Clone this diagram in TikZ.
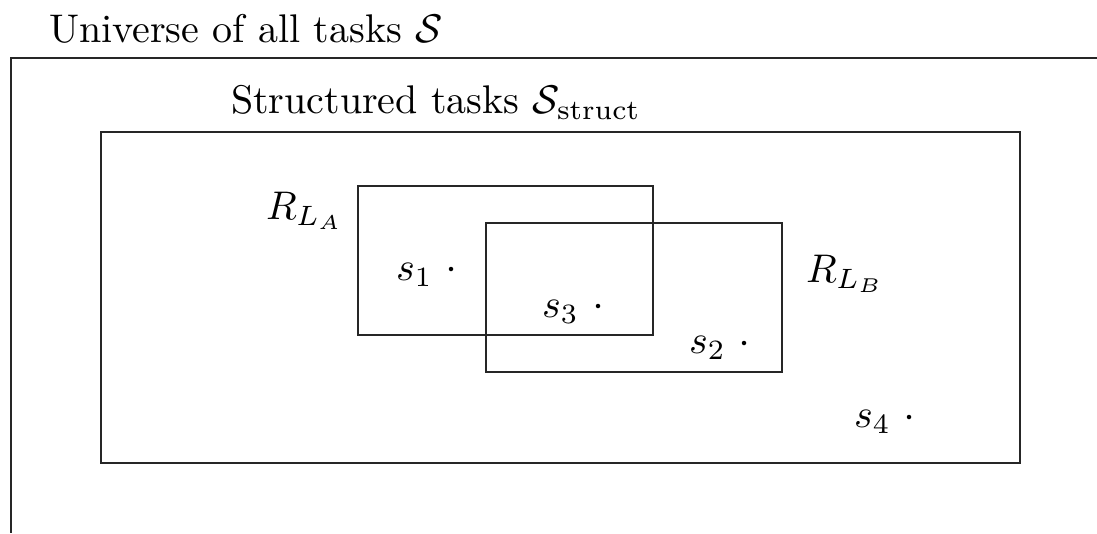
\documentclass[tikz,border=0pt]{standalone}
\usepackage{graphicx}
\newcommand{\biglbl}[1]{\scalebox{4.0}{#1}}
\begin{document}
\begin{tikzpicture}[x=1pt,y=-1pt,
  frame/.style={draw=black!85,line width=1.3pt},
  lbl/.style={anchor=base west,inner sep=0pt,outer sep=0pt,font=\fontsize{10}{12}\selectfont},
  pt/.style={circle,fill=black,inner sep=0pt,minimum size=4.5pt}]
\useasboundingbox (0,0) rectangle (1097,533);
% outer universe frame
\coordinate (uTR) at (1097,58);
\coordinate (uTL) at (10,58);
\coordinate (uBL) at (11,533);
\draw[frame] (uTR) -- (uTL) -- (uTL -| uBL) -- (uBL);
\node[lbl] (utitle) at (49,42) {\biglbl{Universe of all tasks $\mathcal{S}$}};
% structured tasks
\coordinate (sA) at (101,132);
\coordinate (sB) at (1020,463);
\draw[frame] (sA) rectangle (sB);
\node[lbl] (stitle) at (231,113) {\biglbl{Structured tasks $\mathcal{S}_{\mathrm{struct}}$}};
% R_LA
\coordinate (aA) at (358,186);
\coordinate (aB) at (653,335);
\draw[frame] (aA) rectangle (aB);
\node[lbl] (rla) at (266,219) {\biglbl{$R_{L_A}$}};
% R_LB
\coordinate (bA) at (486,223);
\coordinate (bB) at (782,372);
\draw[frame] (bA) rectangle (bB);
\node[lbl] (rlb) at (806,282) {\biglbl{$R_{L_B}$}};
% points
\node[lbl] (s1) at (396,280) {\biglbl{$s_1$}};
\node[pt] (p1) at (451,269) {};
\node[lbl] (s3) at (542,317) {\biglbl{$s_3$}};
\node[pt] (p3) at (598,306) {};
\node[lbl] (s2) at (689,353) {\biglbl{$s_2$}};
\node[pt] (p2) at (744,343) {};
\node[lbl] (s4) at (854,427) {\biglbl{$s_4$}};
\node[pt] (p4) at (909,417) {};
\end{tikzpicture}
\end{document}
